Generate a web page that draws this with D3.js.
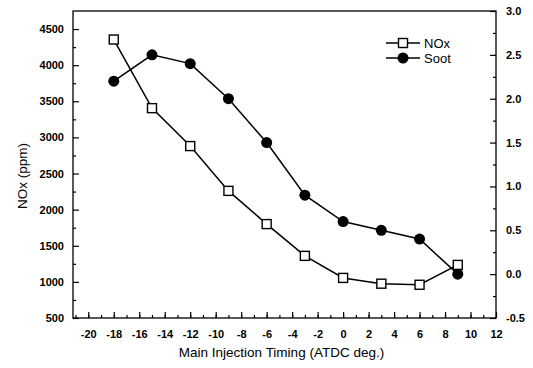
<!DOCTYPE html>
<html>
<head>
<meta charset="utf-8">
<script src="https://cdn.jsdelivr.net/npm/d3@7"></script>
<style>
  body { margin: 0; background: #fff; }
  svg text { font-family: "Liberation Sans", Arial, sans-serif; fill: #000; }
</style>
</head>
<body>
<div id="chart"></div>
<script>
// data
var timing = [-18, -15, -12, -9, -6, -3, 0, 3, 6, 9];
var nox = [4355, 3405, 2880, 2260, 1800, 1360, 1055, 975, 960, 1235];
var soot = [2.2, 2.5, 2.4, 2.0, 1.5, 0.9, 0.6, 0.5, 0.4, 0.0];

var xTicks = [-20, -18, -16, -14, -12, -10, -8, -6, -4, -2, 0, 2, 4, 6, 8, 10, 12];
var noxTicks = [500, 1000, 1500, 2000, 2500, 3000, 3500, 4000, 4500];
var sootTicks = [-0.5, 0.0, 0.5, 1.0, 1.5, 2.0, 2.5, 3.0];

var W = 533, H = 368;
var margin = {top: 11, right: 37, bottom: 50, left: 73};
var width = W - margin.left - margin.right,
    height = H - margin.top - margin.bottom;

var svg = d3.select("#chart").append("svg")
  .attr("width", W).attr("height", H);
var g = svg.append("g")
  .attr("transform", "translate(" + margin.left + "," + margin.top + ")");

var x = d3.scaleLinear().domain([-21.2, 12]).range([0, width]);
var yL = d3.scaleLinear().domain([500, 4750]).range([height, 0]);
var yR = d3.scaleLinear().domain([-0.5, 3.0]).range([height, 0]);

// frame
g.append("rect")
  .attr("width", width).attr("height", height)
  .attr("fill", "none").attr("stroke", "#000").attr("stroke-width", 1.3);

// minor ticks first (inward)
g.append("g").attr("transform", "translate(0," + height + ")")
  .call(d3.axisBottom(x).tickValues(d3.range(-21, 12, 1)).tickSize(-3).tickFormat(""))
  .call(function(s){ s.select(".domain").remove(); });
g.append("g")
  .call(d3.axisLeft(yL).tickValues(d3.range(750, 4750, 500)).tickSize(-3).tickFormat(""))
  .call(function(s){ s.select(".domain").remove(); });
g.append("g").attr("transform", "translate(" + width + ",0)")
  .call(d3.axisRight(yR).tickValues(d3.range(-0.25, 3.0, 0.5)).tickSize(-3).tickFormat(""))
  .call(function(s){ s.select(".domain").remove(); });

// major axes
var xAxis = g.append("g").attr("transform", "translate(0," + height + ")")
  .call(d3.axisBottom(x).tickValues(xTicks).tickSize(-6).tickPadding(12)
    .tickFormat(function(d){ return String(d); }));
var lAxis = g.append("g")
  .call(d3.axisLeft(yL).tickValues(noxTicks).tickSize(-6).tickPadding(9)
    .tickFormat(function(d){ return String(d); }));
var rAxis = g.append("g").attr("transform", "translate(" + width + ",0)")
  .call(d3.axisRight(yR).tickValues(sootTicks).tickSize(-6).tickPadding(10)
    .tickFormat(function(d){ return d.toFixed(1).replace("\u2212", "-"); }));

[xAxis, lAxis, rAxis].forEach(function(a) {
  a.select(".domain").remove();
  a.selectAll("text").style("font-size", "11px").style("font-weight", "bold");
});
g.selectAll(".tick line").attr("stroke", "#000").attr("stroke-width", 1.2);

// axis titles
svg.append("text")
  .attr("x", margin.left + width / 2 - 3).attr("y", 357)
  .attr("text-anchor", "middle").style("font-size", "13.5px")
  .text("Main Injection Timing (ATDC deg.)");
svg.append("text")
  .attr("transform", "translate(27,176) rotate(-90)")
  .attr("text-anchor", "middle").style("font-size", "13.5px")
  .text("NOx (ppm)");

// lines
var noxLine = d3.line().x(function(d, i){ return x(timing[i]); }).y(function(d){ return yL(d); });
var sootLine = d3.line().x(function(d, i){ return x(timing[i]); }).y(function(d){ return yR(d); });

g.append("path").datum(nox).attr("d", noxLine)
  .attr("fill", "none").attr("stroke", "#000").attr("stroke-width", 1.5);
g.append("path").datum(soot).attr("d", sootLine)
  .attr("fill", "none").attr("stroke", "#000").attr("stroke-width", 1.5);

var sq = 9, r = 5.5;
g.selectAll(".noxPt").data(nox).enter().append("rect")
  .attr("class", "noxPt")
  .attr("x", function(d, i){ return x(timing[i]) - sq / 2; })
  .attr("y", function(d){ return yL(d) - sq / 2; })
  .attr("width", sq).attr("height", sq)
  .attr("fill", "#fff").attr("stroke", "#000").attr("stroke-width", 1.4);
g.selectAll(".sootPt").data(soot).enter().append("circle")
  .attr("class", "sootPt")
  .attr("cx", function(d, i){ return x(timing[i]); })
  .attr("cy", function(d){ return yR(d); })
  .attr("r", r).attr("fill", "#000");

// legend
var legend = svg.append("g").attr("transform", "translate(386,43)");
["NOx", "Soot"].forEach(function(name, i) {
  var row = legend.append("g").attr("transform", "translate(0," + (i * 15) + ")");
  row.append("line").attr("x1", 0).attr("x2", 34).attr("y1", 0).attr("y2", 0)
    .attr("stroke", "#000").attr("stroke-width", 1.5);
  if (i === 0) {
    row.append("rect").attr("x", 17 - 4.5).attr("y", -4.5).attr("width", 9).attr("height", 9)
      .attr("fill", "#fff").attr("stroke", "#000").attr("stroke-width", 1.4);
  } else {
    row.append("circle").attr("cx", 17).attr("cy", 0).attr("r", 5.5).attr("fill", "#000");
  }
  row.append("text").attr("x", 38).attr("y", 0).attr("dy", "0.35em")
    .style("font-size", "13px").text(name);
});
</script>
</body>
</html>
